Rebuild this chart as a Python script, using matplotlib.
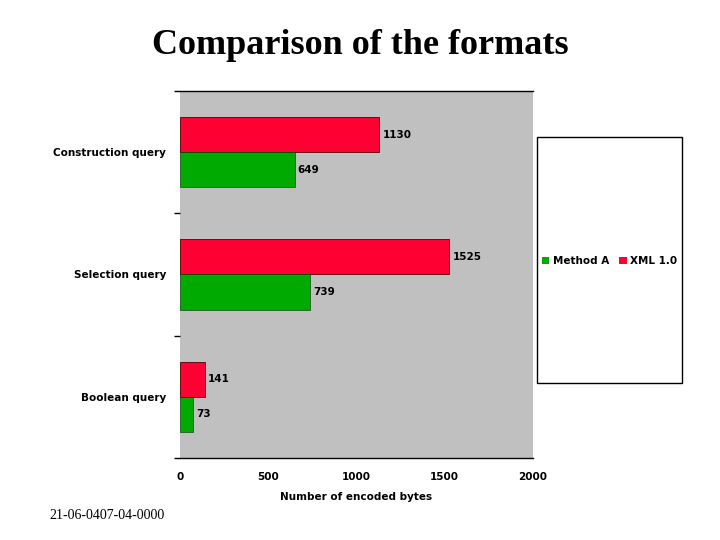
import matplotlib
matplotlib.use("Agg")
import matplotlib.pyplot as plt
from matplotlib.patches import Rectangle, Patch

categories = ["Construction query", "Selection query", "Boolean query"]
method_a = [649, 739, 73]
xml_10 = [1130, 1525, 141]
series_names = ["Method A", "XML 1.0"]
x_ticks = [0, 500, 1000, 1500, 2000]

GREEN = "#00AA00"
RED = "#FF0033"
GRAY = "#C0C0C0"

fig = plt.figure(figsize=(7.2, 5.4), dpi=100)
ax = fig.add_axes([0.25, 0.1519, 0.4903, 0.6796])
ax.set_facecolor(GRAY)

ypos = list(range(len(categories)))
h = 0.287
ax.barh([y - h / 2 for y in ypos], xml_10, height=h, color=RED,
        edgecolor="#550000", linewidth=0.6, zorder=3)
ax.barh([y + h / 2 for y in ypos], method_a, height=h, color=GREEN,
        edgecolor="#003300", linewidth=0.4, zorder=3)

lab_font = dict(fontsize=7.5, fontweight="bold", family="DejaVu Sans")
for y, v in zip(ypos, xml_10):
    ax.text(v + 18, y - h / 2, str(v), va="center", ha="left", **lab_font)
for y, v in zip(ypos, method_a):
    ax.text(v + 18, y + h / 2, str(v), va="center", ha="left", **lab_font)

ax.set_xlim(0, 2000)
ax.set_ylim(len(categories) - 0.5, -0.5)
ax.set_xticks(x_ticks)
ax.set_xticklabels([str(t) for t in x_ticks], **lab_font)
ax.tick_params(axis="x", length=0, pad=10)
ax.set_xticks([500, 1500], minor=True)
ax.tick_params(axis="x", which="minor", length=4, width=1, color="black")
ax.xaxis.grid(True, which="minor", color="black", linewidth=1, zorder=1)
ax.set_axisbelow(True)

ax.set_yticks(ypos)
ax.set_yticklabels(categories, **lab_font)
ax.tick_params(axis="y", length=0, pad=10)
ax.set_yticks([-0.5, 0.5, 1.5, 2.5], minor=True)
ax.tick_params(axis="y", which="minor", length=4, width=1, color="black")

ax.spines["left"].set_visible(False)
ax.spines["right"].set_visible(False)
ax.spines["top"].set_linewidth(1)
ax.spines["bottom"].set_linewidth(1)

ax.set_xlabel("Number of encoded bytes", labelpad=7, **lab_font)

fig.text(0.5, 0.915, "Comparison of the formats", ha="center", va="center",
         fontsize=26, fontweight="bold", family="Liberation Serif")
fig.text(0.068, 0.046, "21-06-0407-04-0000", ha="left", va="center",
         fontsize=10, family="Liberation Serif")

# legend box
fig.patches.append(Rectangle((537 / 720, 1 - 383 / 540), 145 / 720, 246 / 540,
                             transform=fig.transFigure, facecolor="white",
                             edgecolor="black", linewidth=1))
handles = [Patch(facecolor=GREEN, edgecolor="none"), Patch(facecolor=RED, edgecolor="none")]
fig.legend(handles, series_names, ncol=2, loc="center",
           bbox_to_anchor=(609.5 / 720, 1 - 261 / 540), frameon=False,
           prop=dict(size=7.5, weight="bold", family="DejaVu Sans"),
           handlelength=0.7, handleheight=0.7, handletextpad=0.3,
           columnspacing=1.0, borderpad=0)

fig.savefig("out.png", dpi=100)
